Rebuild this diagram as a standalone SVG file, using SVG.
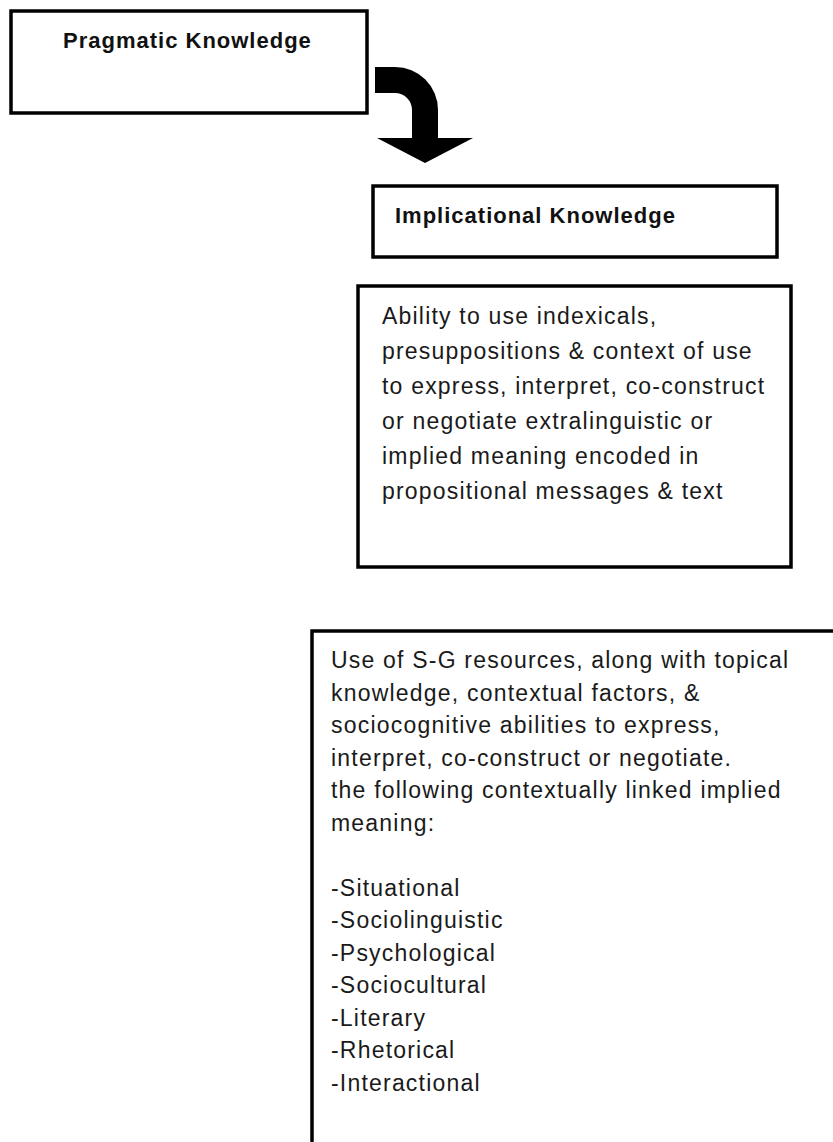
<svg xmlns="http://www.w3.org/2000/svg" width="833" height="1142" viewBox="0 0 833 1142">
<style>
.box{fill:#fff;stroke:#000;stroke-width:3.5}
.title{font-family:"Liberation Sans",Arial,sans-serif;font-weight:bold;font-size:22px;letter-spacing:1px;fill:#111}
.body{font-family:"Liberation Sans",Arial,sans-serif;font-size:23px;letter-spacing:1.2px;fill:#1a1a1a}
</style>
<rect x="0" y="0" width="833" height="1142" fill="#fff"/>
<g id="node-pragmatic">
<rect class="box" x="11" y="11" width="356" height="102"/>
<text class="title" x="63" y="48">Pragmatic Knowledge</text>
</g>
<g id="node-implicational">
<rect class="box" x="373" y="186" width="404" height="71"/>
<text class="title" x="395" y="223">Implicational Knowledge</text>
</g>
<g id="node-ability">
<rect class="box" x="358" y="286" width="433" height="281"/>
<text class="body">
<tspan x="382" y="324">Ability to use indexicals,</tspan>
<tspan x="382" y="359">presuppositions &amp; context of use</tspan>
<tspan x="382" y="394">to express, interpret, co-construct</tspan>
<tspan x="382" y="429">or negotiate extralinguistic or</tspan>
<tspan x="382" y="464">implied meaning encoded in</tspan>
<tspan x="382" y="499">propositional messages &amp; text</tspan>
</text>
</g>
<g id="node-use">
<path d="M312,1142 L312,631 L833,631" fill="none" stroke="#000" stroke-width="3.5"/>
<text class="body">
<tspan x="331" y="668">Use of S-G resources, along with topical</tspan>
<tspan x="331" y="700.5">knowledge, contextual factors, &amp;</tspan>
<tspan x="331" y="733">sociocognitive abilities to express,</tspan>
<tspan x="331" y="765.5">interpret, co-construct or negotiate.</tspan>
<tspan x="331" y="798">the following contextually linked implied</tspan>
<tspan x="331" y="830.5">meaning:</tspan>
<tspan x="331" y="895.5">-Situational</tspan>
<tspan x="331" y="928">-Sociolinguistic</tspan>
<tspan x="331" y="960.5">-Psychological</tspan>
<tspan x="331" y="993">-Sociocultural</tspan>
<tspan x="331" y="1025.5">-Literary</tspan>
<tspan x="331" y="1058">-Rhetorical</tspan>
<tspan x="331" y="1090.5">-Interactional</tspan>
</text>
</g>
<g id="connectors">
<path d="M375,67 L395,67 A43,43 0 0 1 438,110 L438,138 L473,138 L425,163 L377,138 L412,138 L412,110 A17,17 0 0 0 395,93 L375,93 Z" fill="#000"/>
</g>
</svg>
